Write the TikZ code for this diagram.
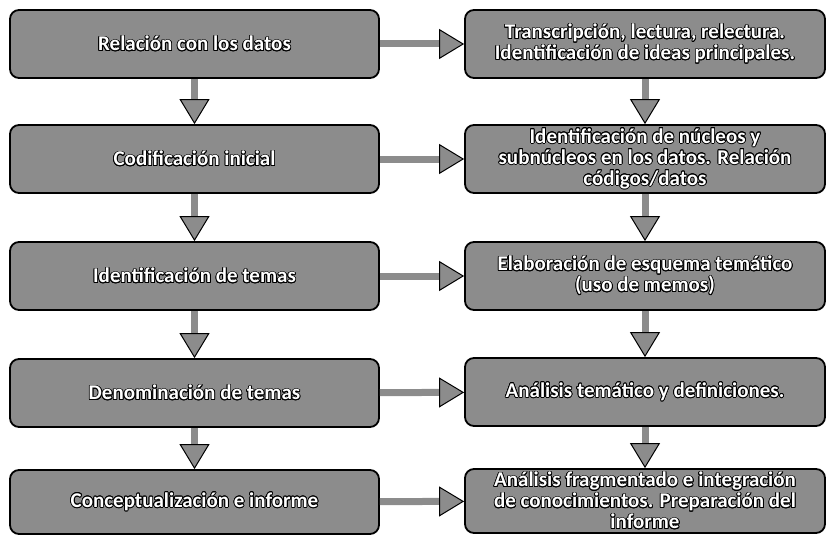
\documentclass[tikz,border=0pt]{standalone}
\usepackage{fontspec}
\setmainfont{Carlito}
\usepackage{contour}
\contourlength{0.8pt}
\usetikzlibrary{arrows.meta}
\definecolor{boxgray}{gray}{0.55}
\newcommand{\wt}[1]{\contour{black}{#1}}

\begin{document}
\begin{tikzpicture}[x=1pt,y=-1pt,
  box/.style={draw=black, line width=1.8pt, fill=boxgray, rounded corners=9pt,
    minimum height=68pt, align=center, text=white, inner sep=0pt,
    font=\fontsize{21}{21}\selectfont\bfseries},
  flow/.style={draw=boxgray, line width=7pt,
    -{Triangle[width=30pt,length=25pt,line width=1pt,color=black,fill=boxgray]},
    preaction={draw=black, line width=9pt,
      -{Triangle[width=30pt,length=25pt,line width=1pt]}}}]
\useasboundingbox (0,0) rectangle (827,535);

\node[box, minimum width=369pt] (l1) at (194.5,44) {\wt{Relación con los datos}};
\node[box, minimum width=369pt] (l2) at (194.5,159) {\wt{Codificación inicial}};
\node[box, minimum width=369pt] (l3) at (194.5,276) {\wt{Identificación de  temas}};
\node[box, minimum width=369pt] (l4) at (194.5,393) {\wt{Denominación de temas}};
\node[box, minimum width=369pt, minimum height=64pt] (l5) at (194.5,502) {\wt{Conceptualización e informe}};

\node[box, minimum width=360pt] (r1) at (645,44)
  {\wt{Transcripción, lectura, relectura.}\\\wt{Identificación de ideas principales.}};
\node[box, minimum width=360pt] (r2) at (645,159)
  {\wt{Identificación de núcleos y}\\\wt{subnúcleos en los datos. Relación}\\\wt{códigos/datos}};
\node[box, minimum width=360pt] (r3) at (645,276)
  {\wt{Elaboración de esquema temático}\\\wt{(uso de memos)}};
\node[box, minimum width=360pt] (r4) at (645,392) {\wt{Análisis temático y definiciones.}};
\node[box, minimum width=360pt, minimum height=64pt] (r5) at (645,501)
  {\wt{Análisis fragmentado e integración}\\\wt{de conocimientos. Preparación del}\\\wt{informe}};

\path[flow] (l1) edge (r1)
            (l2) edge (r2)
            (l3) edge (r3)
            (l4) edge (r4)
            (l5) edge (r5);
\path[flow] (l1) edge (l2)
            (l2) edge (l3)
            (l3) edge (l4)
            (l4) edge (l5);
\path[flow] (r1) edge (r2)
            (r2) edge (r3)
            (r3) edge (r4)
            (r4) edge (r5);
\end{tikzpicture}
\end{document}
